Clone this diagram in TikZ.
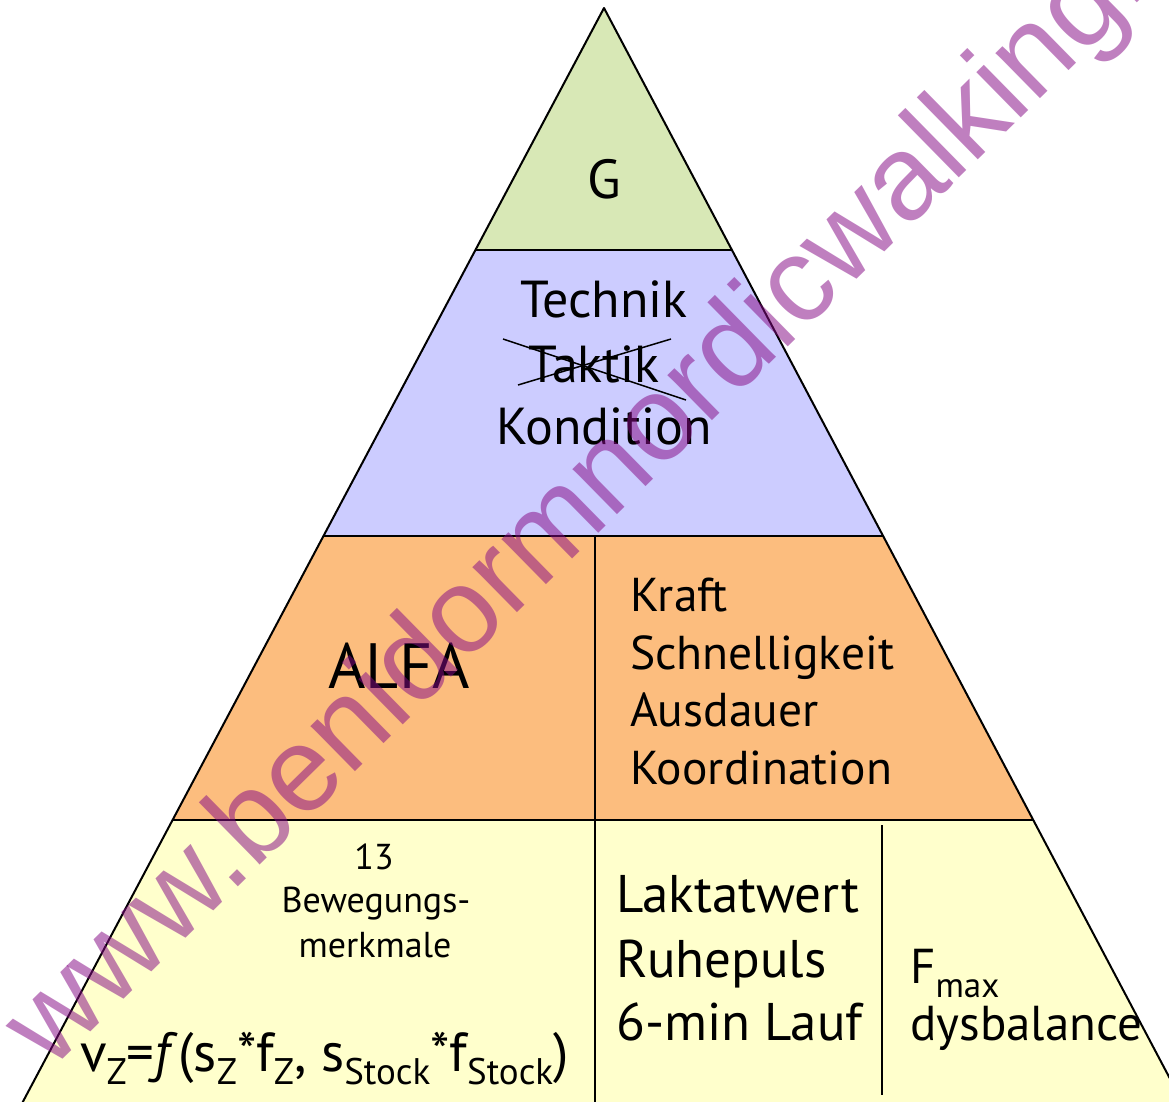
\documentclass[tikz,border=0pt]{standalone}
\usepackage{fontspec}
\setmainfont{PT Sans}
\newfontfamily\wmfont{Liberation Sans}
\definecolor{cG}{HTML}{D8E8B6}
\definecolor{cB}{HTML}{CCCCFF}
\definecolor{cO}{HTML}{FCBD7E}
\definecolor{cY}{HTML}{FFFFCC}
\definecolor{wmpurple}{RGB}{134,11,134}
\newcommand\lsub[3][-13pt]{\raisebox{#1}{\fontsize{#2}{#2}\selectfont #3}}
\begin{document}
\begin{tikzpicture}[x=1pt,y=-1pt,
  edge/.style={draw=black,line width=2pt,line join=round},
  divider/.style={draw=black,line width=1.6pt},
  strike/.style={draw=black,line width=1.5pt},
  big/.style={inner sep=0pt,font=\fontsize{52}{52}\selectfont},
  mid/.style={inner sep=0pt,font=\fontsize{47.5}{47.5}\selectfont},
  small/.style={inner sep=0pt,font=\fontsize{36}{36}\selectfont},
  wm/.style={inner sep=0pt,font=\wmfont\fontsize{120}{120}\selectfont,text=wmpurple,text opacity=0.52}]
\useasboundingbox (0,0) rectangle (1169,1101);
\clip (0,0) rectangle (1169,1101);
\fill[white] (0,0) rectangle (1169,1101);
% pyramid corners
\coordinate (apex) at (604,8);
\coordinate (L1) at (475,250); \coordinate (R1) at (732,250);
\coordinate (L2) at (323,536); \coordinate (R2) at (883,536);
\coordinate (L3) at (173,820); \coordinate (R3) at (1033,820);
\coordinate (L4) at (10,1126); \coordinate (R4) at (1195,1126);
% fills
\fill[cG] (apex) -- (L1) -- (R1) -- cycle;
\fill[cB] (L1) -- (L2) -- (R2) -- (R1) -- cycle;
\fill[cO] (L2) -- (L3) -- (R3) -- (R2) -- cycle;
\fill[cY] (L3) -- (L4) -- (R4) -- (R3) -- cycle;
% outlines
\draw[edge] (L4) -- (apex) -- (R4);
\draw[edge] (L1) -- (R1);
\draw[edge] (L2) -- (R2);
\draw[edge] (L3) -- (R3);
% dividers
\coordinate (d1t) at (595,536); \coordinate (d1b) at (595,1110);
\coordinate (d2t) at (882,825); \coordinate (d2b) at (882,1095);
\draw[divider] (d1t) -- (d1b);
\draw[divider] (d2t) -- (d2b);
% top tier
\node[inner sep=0pt,anchor=base,font=\fontsize{55}{55}\selectfont] (g) at (604,198) {G};
% second tier
\node[big,anchor=base] (technik) at (604,317) {Technik};
\node[big,anchor=base] (taktik) at (594,382) {Taktik};
\node[big,anchor=base] (kondition) at (604,444) {Kondition};
\coordinate (sa1) at (503,339); \coordinate (sa2) at (686,400);
\coordinate (sb1) at (518,385); \coordinate (sb2) at (671,339);
\draw[strike] (sa1) -- (sa2);
\draw[strike] (sb1) -- (sb2);
% third tier
\node[inner sep=0pt,anchor=base,font=\fontsize{64}{64}\selectfont] (alfa) at (399,688) {ALFA};
\node[mid,anchor=base west] (kraft) at (630,611) {Kraft};
\node[mid,anchor=base west] (schnell) at (630,669) {Schnelligkeit};
\node[mid,anchor=base west] (ausdauer) at (630,726) {Ausdauer};
\node[mid,anchor=base west] (koord) at (630,784) {Koordination};
% bottom tier
\node[small,anchor=base] (n13) at (374,869) {13};
\node[small,anchor=base] (beweg) at (376,912) {Bewegungs-};
\node[small,anchor=base] (merk) at (375,957) {merkmale};
\node[inner sep=0pt,anchor=base west,font=\fontsize{55}{55}\selectfont] (formel) at (80,1071)
  {v\lsub{37}{Z}=\textit{f}(s\lsub{37}{Z}*f\lsub{37}{Z}, s\lsub{37}{Stock}*f\lsub{37}{Stock})};
\node[inner sep=0pt,anchor=base west,font=\fontsize{53}{53}\selectfont] (laktat) at (616,912) {Laktatwert};
\node[inner sep=0pt,anchor=base west,font=\fontsize{53}{53}\selectfont] (ruhe) at (616,977) {Ruhepuls};
\node[inner sep=0pt,anchor=base west,font=\fontsize{53}{53}\selectfont] (lauf) at (616,1040) {6-min Lauf};
\node[inner sep=0pt,anchor=base west,font=\fontsize{49}{49}\selectfont] (fmax) at (910,983) {F\lsub[-14pt]{35}{max}};
\node[inner sep=0pt,anchor=base west,font=\fontsize{49}{49}\selectfont] (dys) at (910,1040) {dysbalance};
% watermark
\node[wm,anchor=base west,rotate=44.5] (wmark) at (50,1072) {www.benidormnordicwalking.};
\end{tikzpicture}
\end{document}
